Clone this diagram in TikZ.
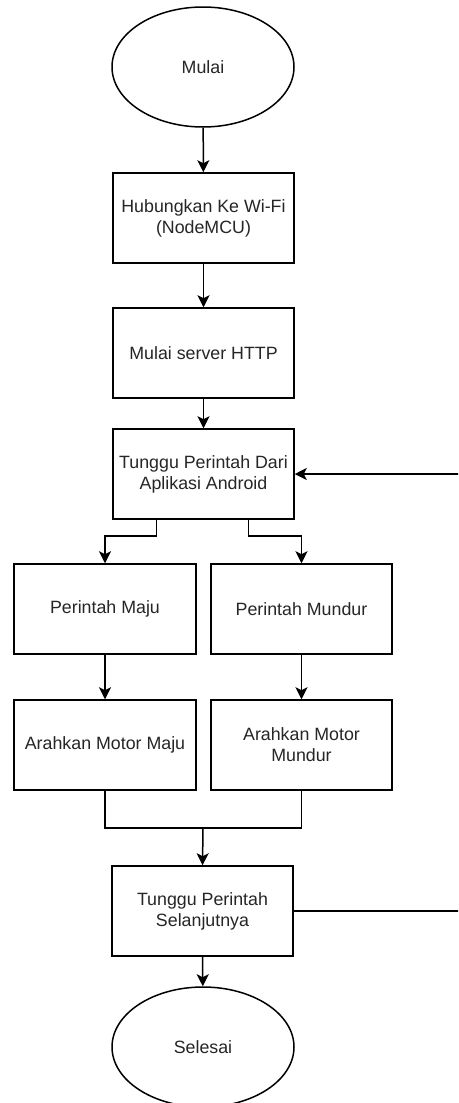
\documentclass[tikz,border=0pt]{standalone}
\usepackage{fontspec}
\setmainfont{Liberation Sans}
\usetikzlibrary{shapes.geometric,arrows.meta,calc}
\begin{document}
\begin{tikzpicture}[x=1pt,y=-1pt,
  every node/.style={font=\fontsize{17.8}{21}\selectfont, text=black!85},
  terminal/.style={ellipse, draw, line width=1.5pt, minimum width=182pt, minimum height=120pt, inner sep=0pt},
  procbox/.style={rectangle, draw, line width=1.5pt, minimum width=181pt, minimum height=90pt, inner sep=2pt, align=center},
  conn/.style={line width=1.5pt, -{Stealth[length=12pt,width=12pt,inset=3pt]}},
  plainline/.style={line width=1.5pt}]
\useasboundingbox (0,0) rectangle (458,1103);
\clip (0,0) rectangle (458,1103);
\fill[white] (0,0) rectangle (458,1103);

\node[terminal] (start) at (203,67) {Mulai};
\node[procbox] (wifi) at (203.5,218) {Hubungkan Ke Wi-Fi\\(NodeMCU)};
\node[procbox] (http) at (203.5,353) {Mulai server HTTP};
\node[procbox] (wait) at (203.5,474) {Tunggu Perintah Dari\\Aplikasi Android};
\node[procbox, minimum width=182pt] (maju) at (105,609) {Perintah Maju};
\node[procbox] (mundur) at (301.5,609) {Perintah Mundur};
\node[procbox, minimum width=182pt] (amaju) at (105,745) {Arahkan Motor Maju};
\node[procbox] (amundur) at (301.5,745) {Arahkan Motor\\Mundur};
\node[procbox] (next) at (202.5,911) {Tunggu Perintah\\Selanjutnya};
\node[terminal] (stop) at (203,1047) {Selesai};

\coordinate (bl) at ($(wait.south west)!0.243!(wait.south east)$);
\coordinate (br) at ($(wait.south west)!0.746!(wait.south east)$);
\coordinate (merge) at (203,828);
\coordinate (fbr) at (462,911);
\coordinate (fbt) at (462,474);

\draw[conn] (start) -- (wifi);
\draw[conn] (wifi) -- (http);
\draw[conn] (http) -- (wait);
\draw[conn] (bl) -- ++(0,16) -| (maju.north);
\draw[conn] (br) -- ++(0,16) -| (mundur.north);
\draw[conn] (maju) -- (amaju);
\draw[conn] (mundur) -- (amundur);
\draw[plainline] (amaju.south) |- (merge);
\draw[plainline] (amundur.south) |- (merge);
\draw[conn] (merge) -- (next.north);
\draw[conn] (next) -- (stop);
\draw[conn] (next.east) -- (fbr) -- (fbt) -- (wait.east);
\end{tikzpicture}
\end{document}
